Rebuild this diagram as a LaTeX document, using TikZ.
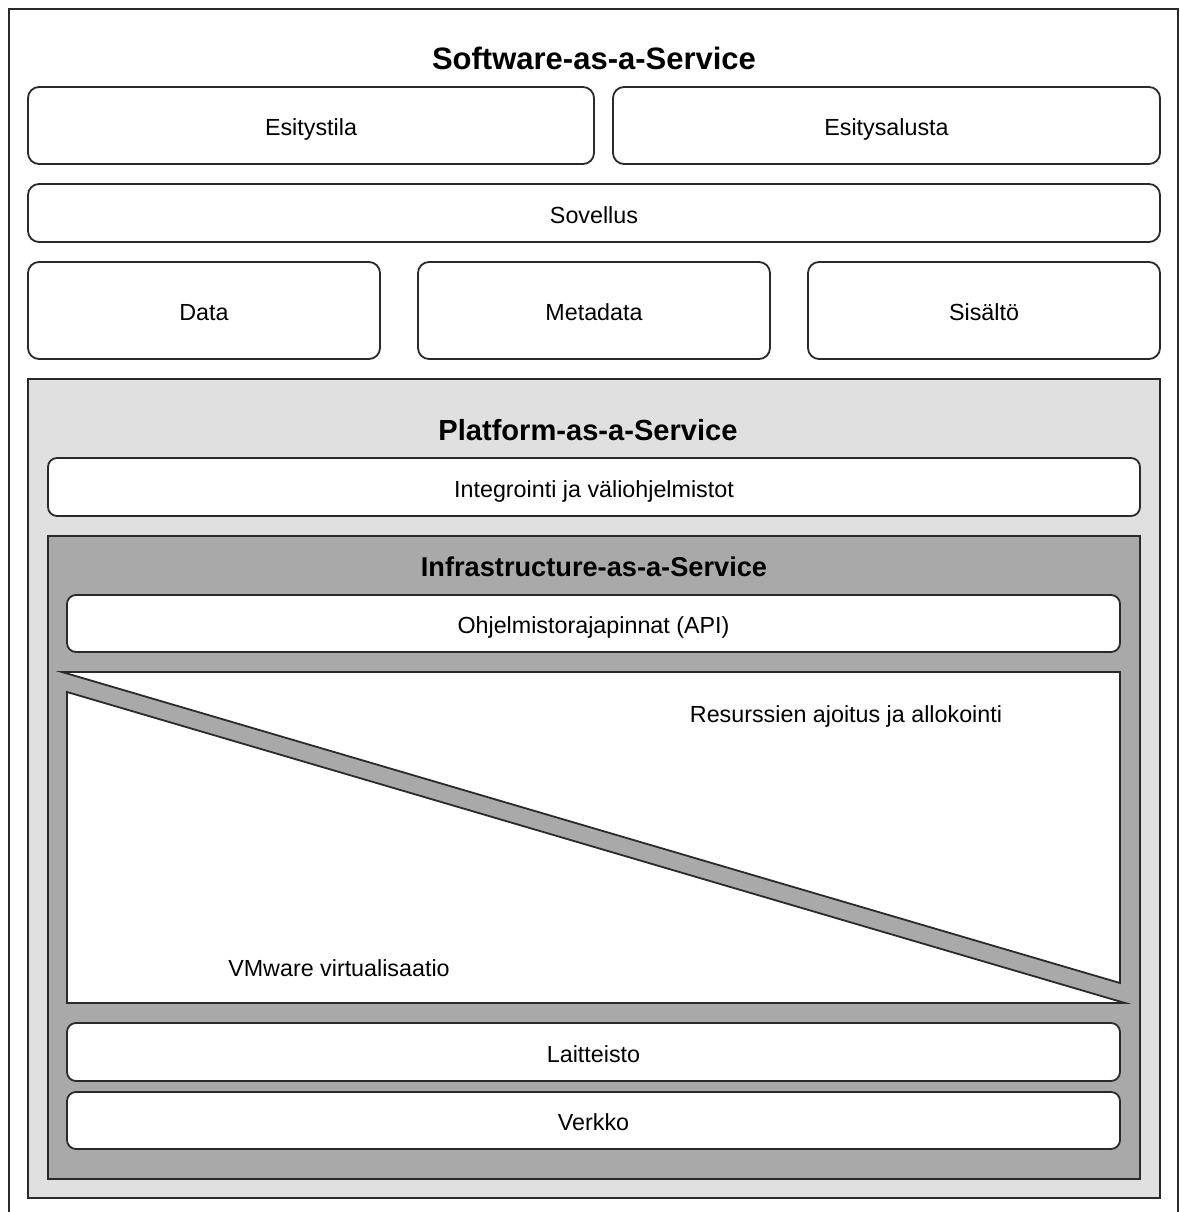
\documentclass[tikz,border=0pt]{standalone}
\usepackage{fontspec}
\setmainfont{Liberation Sans}
\definecolor{paasfill}{HTML}{E0E0E0}
\definecolor{iaasfill}{HTML}{A9A9A9}
\definecolor{edge}{HTML}{2A2A2A}
\begin{document}
\begin{tikzpicture}[x=1pt, y=-1pt,
  box/.style={draw=edge, line width=1.8pt, fill=white, rounded corners=11pt,
    inner sep=0pt, outer sep=0pt, text height=20pt, text depth=0pt,
    font=\fontsize{23.3}{26}\selectfont},
  layer/.style={draw=edge, line width=1.8pt, inner sep=0pt, outer sep=0pt},
  title/.style={font=\fontsize{#1}{#1}\selectfont\bfseries, inner sep=0pt},
  label/.style={font=\fontsize{23.3}{26}\selectfont, inner sep=0pt,
    text height=20pt, text depth=0pt}]
\useasboundingbox (0,0) rectangle (1179,1212);
\clip (0,0) rectangle (1179,1212);
\fill[white] (0,0) rectangle (1179,1212);
% outer frame (runs past the lower edge)
\draw[line width=1.6pt, draw=edge] (9,9) rectangle (1178,1240);

% Software-as-a-Service
\node[title=31] (saas) at (594,58) {Software-as-a-Service};
\node[box, minimum width=566pt, minimum height=77pt] (esitystila) at (311,125.5) {Esitystila};
\node[box, minimum width=547pt, minimum height=77pt] (esitysalusta) at (886.5,125.5) {Esitysalusta};
\node[box, minimum width=1132pt, minimum height=58pt] (sovellus) at (594,213) {Sovellus};
\node[box, minimum width=352pt, minimum height=97pt] (data) at (204,310.5) {Data};
\node[box, minimum width=352pt, minimum height=97pt] (metadata) at (594,310.5) {Metadata};
\node[box, minimum width=352pt, minimum height=97pt] (sisalto) at (984,310.5) {Sisältö};

% Platform-as-a-Service
\node[layer, fill=paasfill, minimum width=1132pt, minimum height=819pt] (paas) at (594,788.5) {};
\node[title=29.1] (paastitle) at (588,430) {Platform-as-a-Service};
\node[box, rounded corners=9pt, minimum width=1092pt, minimum height=58pt] (integrointi) at (594,487) {Integrointi ja väliohjelmistot};

% Infrastructure-as-a-Service
\node[layer, fill=iaasfill, minimum width=1092pt, minimum height=643pt] (iaas) at (594,857.5) {};
\node[title=27.2] (iaastitle) at (594,567) {Infrastructure-as-a-Service};
\node[box, rounded corners=9pt, minimum width=1053pt, minimum height=57pt] (api) at (593.5,623.5) {Ohjelmistorajapinnat (API)};

% scheduling / virtualisation split
\draw[draw=edge, line width=1.8pt, fill=white, line join=miter] (62,672) -- (1120,672) -- (1120,983) -- cycle;
\draw[draw=edge, line width=1.8pt, fill=white, line join=miter] (67,692) -- (67,1003) -- (1125,1003) -- cycle;
\node[label] (resurssit) at (846,712) {Resurssien ajoitus ja allokointi};
\node[label] (vmware) at (339,966) {VMware virtualisaatio};

\node[box, rounded corners=9pt, minimum width=1053pt, minimum height=58pt] (laitteisto) at (593.5,1052) {Laitteisto};
\node[box, rounded corners=9pt, minimum width=1053pt, minimum height=57pt] (verkko) at (593.5,1120.5) {Verkko};
\end{tikzpicture}
\end{document}
